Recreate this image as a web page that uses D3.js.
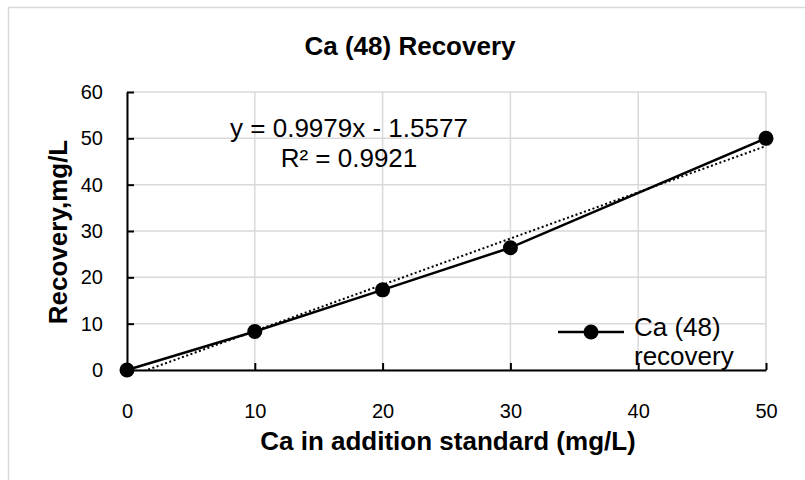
<!DOCTYPE html>
<html>
<head>
<meta charset="utf-8">
<script src="https://cdn.jsdelivr.net/npm/d3@7"></script>
<style>
  html, body { margin: 0; padding: 0; background: #ffffff; }
  svg { display: block; }
  text { font-family: "Liberation Sans", Arial, sans-serif; fill: #000; }
</style>
</head>
<body>
<svg id="chart" width="805" height="480"></svg>
<script>
// Added standard (mg/L) and measured recovery (mg/L)
const addedStd = [0, 10, 20, 30, 50];
const recovery = [0, 8.3, 17.3, 26.4, 50];

// Linear trendline as reported on the chart
const trendSlope = 0.9979;
const trendIntercept = -1.5577;
const trendR2 = 0.9921;

const xTicks = [0, 10, 20, 30, 40, 50];
const yTicks = [0, 10, 20, 30, 40, 50, 60];

const titleText = "Ca (48) Recovery";
const xTitle = "Ca in addition standard (mg/L)";
const yTitle = "Recovery,mg/L";
const seriesName = ["Ca (48)", "recovery"];

const svg = d3.select("#chart");

// chart frame
svg.append("rect")
  .attr("x", 8.5).attr("y", 7.5)
  .attr("width", 820).attr("height", 500)
  .attr("fill", "#fff").attr("stroke", "#d9d9d9").attr("stroke-width", 1.5);

const plot = { left: 127, right: 766, top: 92, bottom: 370 };

const x = d3.scaleLinear().domain([0, 50]).range([plot.left, plot.right]);
const y = d3.scaleLinear().domain([0, 60]).range([plot.bottom, plot.top]);

// gridlines
const grid = svg.append("g");
grid.selectAll("line.h").data(yTicks).join("line")
  .attr("x1", plot.left).attr("x2", plot.right)
  .attr("y1", d => y(d)).attr("y2", d => y(d))
  .attr("stroke", "#d9d9d9").attr("stroke-width", 1.5);
grid.selectAll("line.v").data(xTicks).join("line")
  .attr("x1", d => x(d)).attr("x2", d => x(d))
  .attr("y1", plot.top).attr("y2", plot.bottom)
  .attr("stroke", "#d9d9d9").attr("stroke-width", 1.5);

// axes with ticks pointing inward
const xAxis = d3.axisBottom(x).tickValues(xTicks).tickSizeInner(-7).tickSizeOuter(0).tickPadding(34);
const yAxis = d3.axisLeft(y).tickValues(yTicks).tickSizeInner(-7).tickSizeOuter(0).tickPadding(24);

const gx = svg.append("g").attr("transform", `translate(0,${plot.bottom})`).call(xAxis);
const gy = svg.append("g").attr("transform", `translate(${plot.left},0)`).call(yAxis);
[gx, gy].forEach(g => {
  g.select(".domain").attr("stroke", "#000").attr("stroke-width", 2);
  g.selectAll(".tick line").attr("stroke", "#000").attr("stroke-width", 2);
  g.selectAll(".tick text").attr("font-size", 20)
    .attr("font-family", '"Liberation Sans", Arial, sans-serif').attr("fill", "#000");
});

// clip region for trendline
svg.append("clipPath").attr("id", "plotClip")
  .append("rect")
  .attr("x", plot.left).attr("y", plot.top)
  .attr("width", plot.right - plot.left).attr("height", plot.bottom - plot.top);

const trendX = d3.extent(addedStd);
const trendPts = trendX.map(v => [v, trendSlope * v + trendIntercept]);

svg.append("path")
  .attr("clip-path", "url(#plotClip)")
  .attr("d", d3.line().x(d => x(d[0])).y(d => y(d[1]))(trendPts))
  .attr("fill", "none").attr("stroke", "#000")
  .attr("stroke-width", 2).attr("stroke-dasharray", "2,2.5");

// series line and markers
const pts = addedStd.map((v, i) => [v, recovery[i]]);
svg.append("path")
  .attr("d", d3.line().x(d => x(d[0])).y(d => y(d[1]))(pts))
  .attr("fill", "none").attr("stroke", "#000").attr("stroke-width", 2.5);
svg.append("g").selectAll("circle").data(pts).join("circle")
  .attr("cx", d => x(d[0])).attr("cy", d => y(d[1])).attr("r", 7.5)
  .attr("fill", "#000");

// title
svg.append("text").attr("x", 410).attr("y", 55)
  .attr("text-anchor", "middle").attr("font-size", 26).attr("font-weight", "bold")
  .text(titleText);

// axis titles
svg.append("text").attr("x", 448).attr("y", 450)
  .attr("text-anchor", "middle").attr("font-size", 26).attr("font-weight", "bold")
  .text(xTitle);
svg.append("text")
  .attr("transform", `translate(67,232) rotate(-90)`)
  .attr("text-anchor", "middle").attr("font-size", 26).attr("font-weight", "bold")
  .text(yTitle);

// trendline label
const eq = svg.append("text").attr("text-anchor", "middle").attr("font-size", 26);
eq.append("tspan").attr("x", 349).attr("y", 137)
  .text(`y = ${trendSlope}x - ${Math.abs(trendIntercept)}`);
eq.append("tspan").attr("x", 349).attr("y", 167)
  .text(`R² = ${trendR2}`);

// legend
const lg = svg.append("g");
lg.append("line").attr("x1", 558).attr("x2", 624).attr("y1", 332).attr("y2", 332)
  .attr("stroke", "#000").attr("stroke-width", 2.5);
lg.append("circle").attr("cx", 591).attr("cy", 332).attr("r", 7.5).attr("fill", "#000");
lg.append("text").attr("font-size", 26).attr("x", 634).attr("y", 336).text(seriesName[0]);
lg.append("text").attr("font-size", 26).attr("x", 634).attr("y", 365).text(seriesName[1]);
</script>
</body>
</html>
